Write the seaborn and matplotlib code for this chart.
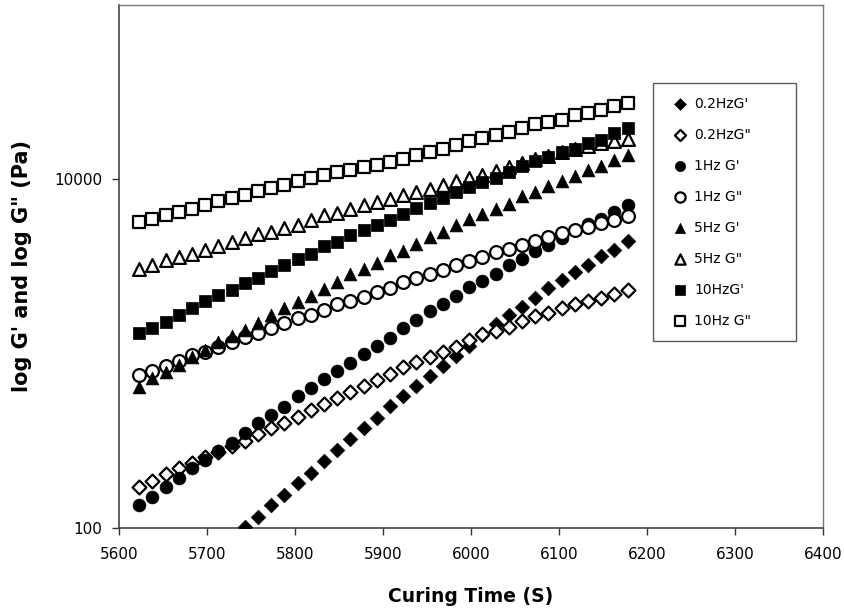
import matplotlib
matplotlib.use("Agg")
import matplotlib.pyplot as plt
import seaborn as sns
import pandas as pd
import numpy as np

# Curing time (s)
time_s = [5623, 5638, 5653, 5668, 5683, 5698, 5713, 5728, 5743, 5758,
          5773, 5788, 5803, 5818, 5833, 5848, 5863, 5878, 5893, 5908,
          5923, 5938, 5953, 5968, 5983, 5998, 6013, 6028, 6043, 6058,
          6073, 6088, 6103, 6118, 6133, 6148, 6163, 6178]

# 0.2 Hz G' (visible from 5743 s on)
g02_storage = [101, 115, 136, 155, 181, 208, 243, 280, 322, 373,
               425, 500, 571, 651, 743, 848, 968, 1104, 1276, 1476,
               1662, 1854, 2099, 2395, 2663, 2931, 3215, 3620, 3955, 4430]
g02_loss = [171, 187, 204, 220, 237, 255, 274, 295, 315, 346,
            373, 401, 434, 473, 514, 554, 604, 651, 705, 763,
            834, 898, 951, 1024, 1094, 1200, 1293, 1351, 1424, 1542,
            1640, 1713, 1816, 1921, 2007, 2099, 2213, 2311]
g1_storage = [136, 150, 173, 193, 220, 245, 277, 306, 352, 398,
              444, 496, 568, 636, 711, 797, 886, 993, 1104, 1238,
              1395, 1556, 1759, 1921, 2136, 2405, 2614, 2855, 3215, 3512,
              3883, 4187, 4634, 5101, 5523, 5953, 6495, 7096]
g1_loss = [753, 797, 848, 909, 980, 1024, 1094, 1168, 1248, 1316,
           1395, 1490, 1598, 1673, 1775, 1921, 2007, 2116, 2261, 2395,
           2579, 2734, 2855, 3037, 3215, 3412, 3587, 3831, 4008, 4187,
           4430, 4671, 4924, 5136, 5343, 5617, 5821, 6138]
g5_storage = [645, 721, 787, 859, 959, 1047, 1168, 1260, 1376, 1502,
              1662, 1816, 1973, 2136, 2364, 2579, 2855, 3070, 3314, 3669,
              3868, 4241, 4671, 4989, 5451, 5899, 6301, 6794, 7255, 7990,
              8456, 9119, 9779, 10404, 11365, 11871, 12850, 13725]
g5_loss = [3078, 3215, 3434, 3587, 3752, 3919, 4130, 4372, 4634, 4840,
           4989, 5287, 5487, 5821, 6219, 6411, 6794, 7096, 7410, 7752,
           8095, 8456, 8844, 9239, 9739, 10132, 10541, 11112, 11718, 12351,
           13020, 13636, 14280, 14955, 15560, 16080, 16514, 16955]
g10_storage = [1306, 1395, 1521, 1662, 1816, 2000, 2164, 2327, 2545, 2734,
               2983, 3215, 3489, 3752, 4130, 4372, 4777, 5101, 5451, 5821,
               6360, 6884, 7314, 7854, 8456, 9000, 9650, 10226, 11010, 11871,
               12736, 13420, 14335, 14993, 16145, 16888, 18421, 19785]
g10_loss = [5692, 5953, 6219, 6495, 6794, 7096, 7479, 7812, 8095, 8534,
            8961, 9239, 9779, 10226, 10541, 11010, 11365, 11762, 12028, 12564,
            13140, 13725, 14335, 14993, 15660, 16514, 17180, 17871, 18717, 19603,
            20665, 21300, 21985, 23270, 23985, 24855, 26205, 27370]

labels = ["0.2HzG'", '0.2HzG"', "1Hz G'", '1Hz G"',
          "5Hz G'", '5Hz G"', "10HzG'", '10Hz G"']
series_values = [g02_storage, g02_loss, g1_storage, g1_loss,
                 g5_storage, g5_loss, g10_storage, g10_loss]
x_ticks = [5600, 5700, 5800, 5900, 6000, 6100, 6200, 6300, 6400]
y_ticks = [100, 10000]

markers = ["D", "D", "o", "o", "^", "^", "s", "s"]
filled = [True, False, True, False, True, False, True, False]
sizes = [55, 50, 85, 85, 85, 85, 80, 80]

frames = []
for lab, vals in zip(labels, series_values):
    t = time_s[len(time_s) - len(vals):]
    frames.append(pd.DataFrame({"time": t, "G": vals, "series": lab}))
df = pd.concat(frames, ignore_index=True)

sns.set_style("white")
plt.rcParams["font.family"] = ["DejaVu Sans"]
plt.rcParams["text.color"] = "black"
plt.rcParams["axes.labelcolor"] = "black"
plt.rcParams["xtick.color"] = "black"
plt.rcParams["ytick.color"] = "black"

fig = plt.figure(figsize=(8.44, 6.15), dpi=100)
ax = fig.add_axes([119 / 844, 1 - 528 / 615, (823 - 119) / 844, (528 - 5) / 615])

for lab, m, f, s in zip(labels, markers, filled, sizes):
    sub = df[df["series"] == lab]
    sns.scatterplot(data=sub, x="time", y="G", ax=ax, marker=m, s=s,
                    color="black",
                    facecolor="black" if f else "white",
                    edgecolor="black", linewidth=1.6 if not f else 0.5,
                    label=lab, zorder=3)

ax.set_yscale("log")
ax.set_xlim(5600, 6400)
ax.set_ylim(100, 100000)
ax.set_xticks(x_ticks)
ax.set_xticklabels([str(v) for v in x_ticks])
ax.set_yticks(y_ticks)
ax.set_yticklabels([str(v) for v in y_ticks])
ax.yaxis.set_minor_locator(matplotlib.ticker.NullLocator())
ax.tick_params(axis="both", which="major", direction="out", length=5,
               width=1, color="#333333", labelsize=11, bottom=True, left=True,
               labelcolor="black")
ax.tick_params(axis="x", pad=9)
ax.tick_params(axis="y", pad=7)

for side in ["left", "bottom"]:
    ax.spines[side].set_color("#444444")
    ax.spines[side].set_linewidth(1.2)
for side in ["top", "right"]:
    ax.spines[side].set_color("#777777")
    ax.spines[side].set_linewidth(1.0)

ax.set_xlabel("Curing Time (S)", fontsize=13.5, fontweight="bold", labelpad=18,
              color="black")
ax.set_ylabel('log G\' and log G" (Pa)', fontsize=15, fontweight="bold",
              labelpad=16, color="black")

x0 = (653 - 119) / 704
x1 = (796 - 119) / 704
y_top = (528 - 83) / 523
y_bot = (528 - 343) / 523
handles, hl = ax.get_legend_handles_labels()
leg = ax.legend(handles, hl, loc="upper left",
                bbox_to_anchor=(x0, y_bot, x1 - x0, y_top - y_bot),
                mode="expand", borderaxespad=0, frameon=True, fancybox=False,
                fontsize=10, labelspacing=1.22, handlelength=1.9,
                handletextpad=0.05, borderpad=1.0, markerscale=0.8)
leg.get_frame().set_edgecolor("#333333")
leg.get_frame().set_linewidth(1.0)
for t in leg.get_texts():
    t.set_color("black")

fig.savefig("out.png", dpi=100)
